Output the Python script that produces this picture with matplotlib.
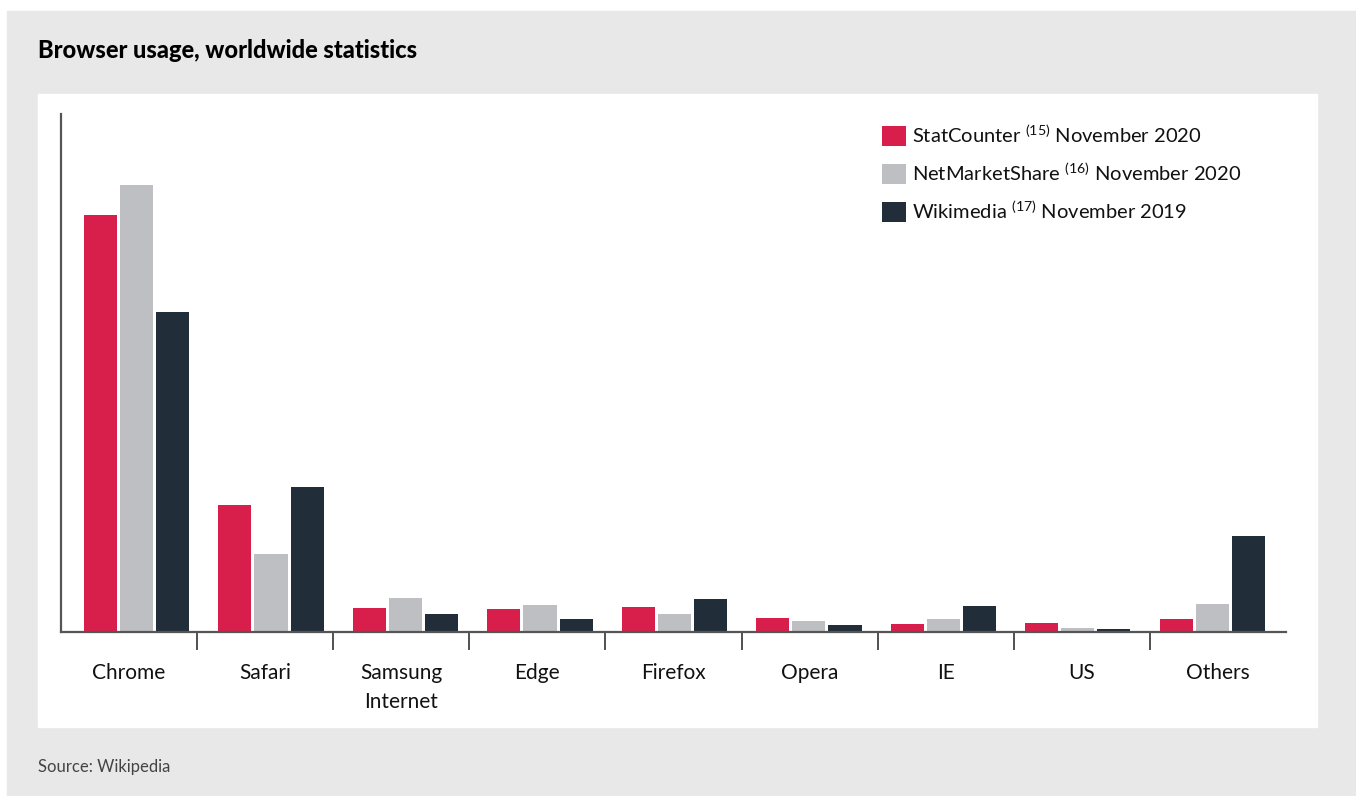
# plot.py
#   browser usage, worldwide statistics: grouped bars for three sources

import matplotlib
matplotlib.use('Agg')
from matplotlib import pyplot as plt
from matplotlib.patches import Rectangle
import numpy as np

BROWSERS = ['Chrome', 'Safari', 'Samsung\nInternet', 'Edge', 'Firefox',
            'Opera', 'IE', 'US', 'Others']
# share in percent
STATCOUNTER    = [64.2, 19.5, 3.7, 3.5, 3.8, 2.2, 1.2, 1.4, 2.0]
NETMARKETSHARE = [68.8, 12.0, 5.2, 4.2, 2.8, 1.7, 2.0, 0.6, 4.3]
WIKIMEDIA      = [49.2, 22.3, 2.8, 2.0, 5.1, 1.1, 4.0, 0.5, 14.8]
LABELS = [r'StatCounter $^{\mathregular{(15)}}$ November 2020',
          r'NetMarketShare $^{\mathregular{(16)}}$ November 2020',
          r'Wikimedia $^{\mathregular{(17)}}$ November 2019']

COLORS = ['#d81e4b', '#bebfc2', '#212d39']
BG = '#e8e8e8'
FONT = 'Lato'

plt.rcParams['font.family'] = [FONT, 'DejaVu Sans']
plt.rcParams['mathtext.fontset'] = 'custom'
plt.rcParams['mathtext.rm'] = FONT

W, H = 1356, 796
fig = plt.figure(figsize=(W / 100, H / 100), dpi=100)
fig.patch.set_facecolor('white')

# grey card and white panel
fig.patches.append(Rectangle((7 / W, 0), 1 - 7 / W, (H - 11) / H,
                             transform=fig.transFigure, color=BG, zorder=-2))
fig.patches.append(Rectangle((38 / W, 1 - 727 / H), (1317 - 38) / W, (727 - 94) / H,
                             transform=fig.transFigure, color='white', zorder=-1))

fig.text(38 / W, 1 - 51 / H, 'Browser usage, worldwide statistics',
         fontsize=17, fontweight='black', va='center', ha='left', color='black')
fig.text(38 / W, 1 - 767 / H, 'Source: Wikipedia',
         fontsize=12, fontweight='normal', va='center', ha='left', color='#444444')

ax = fig.add_axes([61 / W, 1 - 632 / H, (1286 - 61) / W, (632 - 114) / H])
ax.set_facecolor('none')

x = np.arange(len(BROWSERS))
# the bar groups sit on a slightly tighter pitch than the tick labels
group_x = 0.055 + x * 0.988
width = 0.243
step = 0.265
series = [STATCOUNTER, NETMARKETSHARE, WIKIMEDIA]
for i, (vals, col, lab) in enumerate(zip(series, COLORS, LABELS)):
    ax.bar(group_x + (i - 1) * step, vals, width=width, color=col, label=lab, zorder=2)

ax.set_xlim(-0.5, len(BROWSERS) - 0.5)
ax.set_ylim(0, 79.7)

for s in ['top', 'right']:
    ax.spines[s].set_visible(False)
for s in ['left', 'bottom']:
    ax.spines[s].set_color('#555555')
    ax.spines[s].set_linewidth(1.6)
    ax.spines[s].set_zorder(3)

ax.set_yticks([])
ax.set_xticks(x)
ax.set_xticklabels(BROWSERS, fontsize=15, color='#111111', linespacing=1.6)
ax.tick_params(axis='x', which='major', length=0, pad=22)
ax.set_xticks(np.arange(0.5, len(BROWSERS) - 1, 1.0), minor=True)
ax.tick_params(axis='x', which='minor', length=13, width=1.2, color='#333333')

leg = ax.legend(loc='upper left', bbox_to_anchor=(882 / W, 1 - 123 / H),
                bbox_transform=fig.transFigure, frameon=False, fontsize=14.5,
                handlelength=1.2, handleheight=1.2, handletextpad=0.3,
                labelspacing=0.72, borderaxespad=0, borderpad=0)
for t in leg.get_texts():
    t.set_color('#111111')

fig.savefig('out.png', dpi=100, facecolor=fig.get_facecolor())
